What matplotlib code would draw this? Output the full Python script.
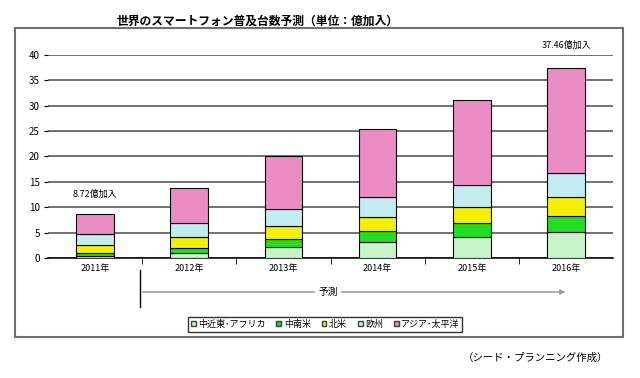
import matplotlib.pyplot as plt
import numpy as np
from matplotlib.patches import Patch, Rectangle

plt.rcParams['font.family'] = ['Noto Sans CJK JP', 'DejaVu Sans']

years = ["2011年", "2012年", "2013年", "2014年", "2015年", "2016年"]
regions = ["中近東･アフリカ", "中南米", "北米", "欧州", "アジア･太平洋"]
mea = [0.40, 1.05, 2.10, 3.10, 4.10, 5.10]
latam = [0.50, 0.95, 1.70, 2.15, 2.80, 3.10]
namerica = [1.70, 2.10, 2.50, 2.85, 3.20, 3.80]
europe = [2.10, 2.70, 3.30, 3.90, 4.30, 4.70]
asia = [4.02, 6.90, 10.40, 13.40, 16.70, 20.76]
totals_text = ["8.72億加入", "37.46億加入"]

colors = ["#c8f5c8", "#22dd22", "#f5f000", "#c2ecf0", "#ec8cc4"]

fig = plt.figure(figsize=(6.4, 3.78), dpi=100)
ax = fig.add_axes([0.075, 0.3175, 0.883, 0.5375])

x = np.arange(len(years))
bottom = np.zeros(len(years))
for vals, c in zip([mea, latam, namerica, europe, asia], colors):
    ax.bar(x, vals, 0.4, bottom=bottom, color=c, edgecolor="black",
           linewidth=0.8, zorder=3)
    bottom += np.array(vals)

ax.set_xlim(-0.5, 5.5)
ax.set_ylim(0, 40)
ax.set_yticks(range(0, 41, 5))
ax.yaxis.grid(True, color="#5a5a5a", linewidth=1.2, zorder=0)
ax.set_xticks(x)
ax.set_xticklabels(years, fontsize=6.5)
ax.set_xticks(np.arange(0.5, 5.5, 1), minor=True)
ax.tick_params(axis="x", which="major", length=0, pad=4)
ax.tick_params(axis="x", which="minor", length=4, direction="out")
ax.tick_params(axis="y", length=3, labelsize=7, pad=3)
for s in ["top", "right", "left"]:
    ax.spines[s].set_visible(False)
ax.spines["bottom"].set_linewidth(1.1)

ax.text(0, 12.6, totals_text[0], ha="center", va="center", fontsize=6.5)
ax.text(5, 40.9, totals_text[1], ha="center", va="bottom", fontsize=6.5,
        clip_on=False)

fig.text(0.403, 0.945, "世界のスマートフォン普及台数予測（単位：億加入）",
         ha="center", va="center", fontsize=8.5, fontweight="bold")

# outer frame
fig.patches.append(Rectangle((0.023, 0.108), 0.95, 0.818, transform=fig.transFigure,
                             fill=False, edgecolor="#707070", linewidth=1.5))

# forecast arrow
fig.add_artist(plt.Line2D([0.219, 0.219], [0.188, 0.286], color="black",
                          linewidth=1, transform=fig.transFigure))
ax.annotate("", xy=(0.888, 0.2275), xytext=(0.219, 0.2275),
            xycoords="figure fraction", textcoords="figure fraction",
            arrowprops=dict(arrowstyle="-|>", color="#a0a0a0", lw=1.2,
                            mutation_scale=7))
fig.text(0.5125, 0.2275, "予測", ha="center", va="center", fontsize=7,
         bbox=dict(facecolor="white", edgecolor="none", pad=2))

handles = [Patch(facecolor=c, edgecolor="#404040", label=r)
           for c, r in zip(colors, regions)]
fig.legend(handles=handles, loc="center", bbox_to_anchor=(0.508, 0.142),
           ncol=5, fontsize=6.5, frameon=True, fancybox=False,
           edgecolor="black", handlelength=0.55, handleheight=0.55,
           handletextpad=0.25, columnspacing=1.2, borderpad=0.3)

fig.text(0.95, 0.053, "（シード・プランニング作成）", ha="right", va="center",
         fontsize=7.5)

fig.savefig("out.png", dpi=100)
